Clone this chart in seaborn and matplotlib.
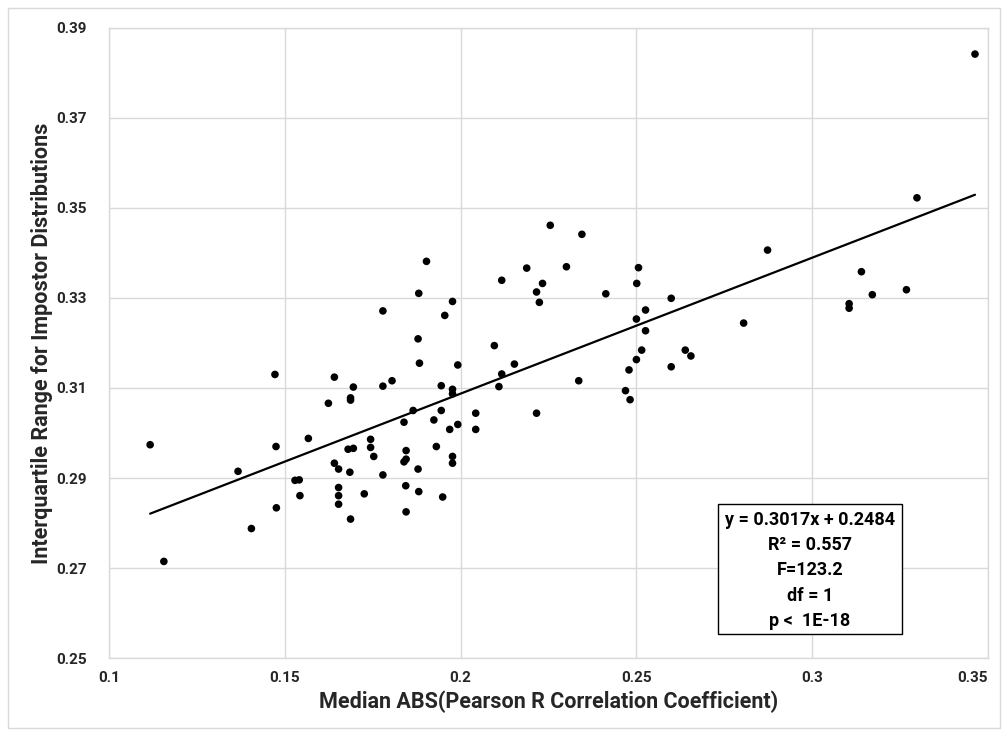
import matplotlib
matplotlib.use("Agg")
import matplotlib.pyplot as plt
from matplotlib.patches import Rectangle
import numpy as np
import pandas as pd
import seaborn as sns

# Median |Pearson r| per subject and the IQR of its impostor score distribution
median_abs_r = [
    0.1472, 0.1117, 0.1475, 0.1367, 0.1529, 0.1541, 0.1543, 0.1476, 0.1405, 0.1156,
    0.1903, 0.1881, 0.1977, 0.1779, 0.1955, 0.1879, 0.1883, 0.1992, 0.1641, 0.1695,
    0.1779, 0.1805, 0.1945, 0.1977, 0.1977, 0.1687, 0.1687, 0.1624, 0.1865, 0.1945,
    0.2043, 0.1839, 0.1924, 0.1992, 0.1969, 0.2043, 0.1567, 0.1744, 0.1744, 0.1680,
    0.1695, 0.1845, 0.1931, 0.1753, 0.1977, 0.1977, 0.1839, 0.1845, 0.1641, 0.1653,
    0.1879, 0.1685, 0.1779, 0.1653, 0.1653, 0.1653, 0.1726, 0.1844, 0.1881, 0.1949,
    0.1687, 0.1845,
    0.2255, 0.2345, 0.2188, 0.2301, 0.2506, 0.2117, 0.2233, 0.2216, 0.2501, 0.2224,
    0.2413, 0.2599, 0.2526, 0.2500, 0.2526, 0.2096, 0.2515, 0.2639, 0.2655, 0.2500,
    0.2153, 0.2479, 0.2599, 0.2117, 0.2109, 0.2336, 0.2469, 0.2482, 0.2216,
    0.3463, 0.3298, 0.2873, 0.3140, 0.3171, 0.3268, 0.3105, 0.3105, 0.2805,
]
impostor_iqr = [
    0.3130, 0.2974, 0.2970, 0.2915, 0.2895, 0.2896, 0.2861, 0.2834, 0.2788, 0.2715,
    0.3381, 0.3310, 0.3292, 0.3271, 0.3261, 0.3209, 0.3155, 0.3151, 0.3124, 0.3102,
    0.3104, 0.3116, 0.3105, 0.3097, 0.3087, 0.3078, 0.3073, 0.3066, 0.3050, 0.3050,
    0.3044, 0.3024, 0.3029, 0.3019, 0.3008, 0.3008, 0.2988, 0.2986, 0.2968, 0.2964,
    0.2966, 0.2961, 0.2970, 0.2948, 0.2948, 0.2933, 0.2936, 0.2942, 0.2933, 0.2920,
    0.2920, 0.2913, 0.2907, 0.2879, 0.2861, 0.2842, 0.2865, 0.2883, 0.2870, 0.2858,
    0.2809, 0.2825,
    0.3461, 0.3441, 0.3366, 0.3369, 0.3367, 0.3339, 0.3332, 0.3313, 0.3332, 0.3290,
    0.3309, 0.3299, 0.3273, 0.3253, 0.3227, 0.3194, 0.3184, 0.3184, 0.3171, 0.3163,
    0.3153, 0.3140, 0.3147, 0.3131, 0.3103, 0.3116, 0.3094, 0.3074, 0.3044,
    0.3841, 0.3522, 0.3406, 0.3358, 0.3307, 0.3318, 0.3287, 0.3277, 0.3244,
]

# Least-squares fit reported in the annotation
slope = 0.3017
intercept = 0.2484
stats_lines = ["y = 0.3017x + 0.2484", "R² = 0.557", "F=123.2", "df = 1", "p <  1E-18"]

x_ticks = [0.1, 0.15, 0.2, 0.25, 0.3, 0.35]
x_tick_labels = ["0.1", "0.15", "0.2", "0.25", "0.3", "0.35"]
y_ticks = [0.25, 0.27, 0.29, 0.31, 0.33, 0.35, 0.37, 0.39]
y_tick_labels = ["0.25", "0.27", "0.29", "0.31", "0.33", "0.35", "0.37", "0.39"]

df = pd.DataFrame({"median_abs_r": median_abs_r, "impostor_iqr": impostor_iqr})

sns.set_style("white")
plt.rcParams["font.family"] = ["Roboto", "DejaVu Sans"]

grid_gray = "#d9d9d9"
text_color = "#262626"

fig = plt.figure(figsize=(10.08, 7.36), dpi=100)
ax = fig.add_axes([109 / 1008, 1 - 658.3 / 736, 879 / 1008, 630.8 / 736])

sns.scatterplot(data=df, x="median_abs_r", y="impostor_iqr", ax=ax,
                color="black", s=30, edgecolor="none", zorder=3, legend=False)

# Linear trendline spanning the observed x range
fit_x = np.array([min(median_abs_r), max(median_abs_r)])
sns.lineplot(x=fit_x, y=slope * fit_x + intercept, ax=ax,
             color="black", linewidth=1.6, zorder=4)

ax.set_xlim(0.1, 0.35)
ax.set_ylim(0.25, 0.39)
ax.set_xticks(x_ticks)
ax.set_xticklabels(x_tick_labels)
ax.set_yticks(y_ticks)
ax.set_yticklabels(y_tick_labels)
ax.tick_params(axis="both", length=0, labelsize=11, colors=text_color)
ax.tick_params(axis="x", pad=9)
ax.tick_params(axis="y", pad=16)
for lab in ax.get_xticklabels() + ax.get_yticklabels():
    lab.set_fontweight("bold")
# keep the last x label inside the chart frame
ax.get_xticklabels()[-1].set_horizontalalignment("right")

ax.grid(True, color=grid_gray, linewidth=1.0)
ax.set_axisbelow(True)
for side in ["left", "bottom", "top", "right"]:
    ax.spines[side].set_color(grid_gray)
    ax.spines[side].set_linewidth(1.0)

ax.set_xlabel("Median ABS(Pearson R Correlation Coefficient)", fontsize=15.5,
              fontweight="bold", color=text_color, labelpad=4)
ax.set_ylabel("Interquartile Range for Impostor Distributions", fontsize=15.5,
              fontweight="bold", color=text_color, labelpad=2)

# Statistics box in the lower right of the plot area
ax.add_patch(Rectangle((0.6928, 0.0385), 0.2094, 0.2061, transform=ax.transAxes,
                       facecolor="white", edgecolor="black", linewidth=1.0,
                       zorder=5))
line_y = [0.2192, 0.1796, 0.1400, 0.0988, 0.0592]
for txt, yy in zip(stats_lines, line_y):
    ax.text(0.7975, yy, txt, transform=ax.transAxes, ha="center", va="center",
            fontsize=13, fontweight="bold", color="black", zorder=6)

# Outer chart frame
fig.patches.append(Rectangle((8 / 1008, 8 / 736), 992 / 1008, 720 / 736,
                             transform=fig.transFigure, fill=False,
                             edgecolor=grid_gray, linewidth=1.0))

fig.savefig("out.png", dpi=100)
